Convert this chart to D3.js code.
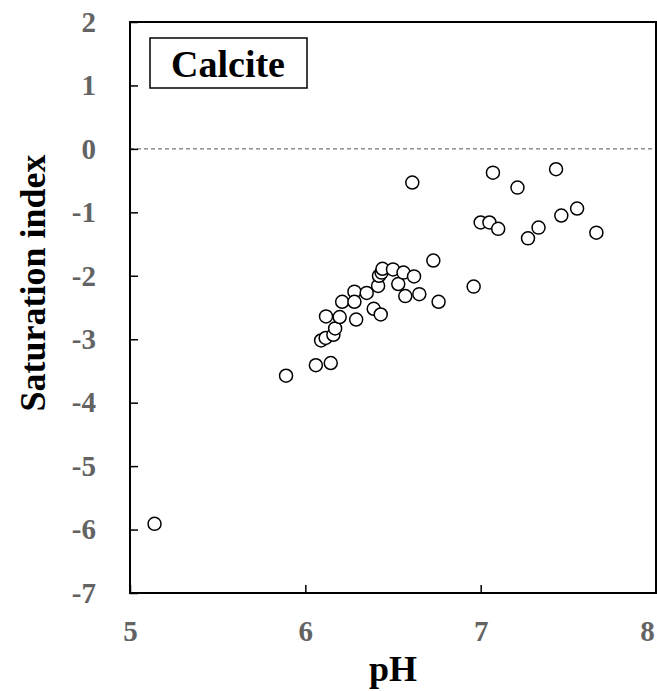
<!DOCTYPE html>
<html lang="en">
<head>
<meta charset="UTF-8">
<title>Calcite saturation index</title>
<style>
  body { margin: 0; background: #fff; }
  text { font-family: "Liberation Serif", "Times New Roman", serif; font-weight: bold; }
</style>
</head>
<body>
<div id="chart"></div>
<script src="https://d3js.org/d3.v7.min.js"></script>
<script>
// pH and saturation index of each sample
const ph = [5.14, 5.89, 6.06, 6.145, 6.09, 6.116, 6.16, 6.17, 6.118, 6.196, 6.21, 6.28, 6.28,
            6.29, 6.35, 6.39, 6.43, 6.415, 6.42, 6.435, 6.44, 6.50, 6.53, 6.56, 6.57, 6.62, 6.65,
            6.73, 6.76, 6.96, 6.61, 7.07, 7.43, 7.21, 7.00, 7.05, 7.10, 7.33, 7.27, 7.46, 7.55, 7.66];
const si = [-5.91, -3.575, -3.41, -3.375, -3.02, -2.98, -2.93, -2.83, -2.64, -2.65, -2.41, -2.25, -2.41,
            -2.69, -2.27, -2.52, -2.61, -2.16, -2.00, -1.95, -1.89, -1.90, -2.13, -1.95, -2.32, -2.01, -2.29,
            -1.76, -2.41, -2.17, -0.53, -0.375, -0.32, -0.61, -1.16, -1.16, -1.26, -1.24, -1.41, -1.05, -0.94, -1.32];
const xTicks = [5, 6, 7, 8];
const yTicks = [2, 1, 0, -1, -2, -3, -4, -5, -6, -7];

const margin = { top: 22, right: 1, bottom: 98, left: 130 },
      width = 657 - margin.left - margin.right,
      height = 691 - margin.top - margin.bottom;

const svg = d3.select("#chart")
    .append("svg")
    .attr("width", 657)
    .attr("height", 691)
    .append("g")
    .attr("transform", "translate(" + margin.left + "," + margin.top + ")");

const x = d3.scaleLinear().domain([5, 8]).range([0, width]);
const y = d3.scaleLinear().domain([-7, 2]).range([height, 0]);

// zero line
svg.append("line")
    .attr("x1", 0).attr("x2", width)
    .attr("y1", y(0)).attr("y2", y(0))
    .style("stroke", "#555")
    .style("stroke-width", 1)
    .style("stroke-dasharray", "4,3");

// axes with inward ticks
const xAxis = svg.append("g")
    .attr("transform", "translate(0," + height + ")")
    .call(d3.axisBottom(x).tickValues(xTicks).tickSize(-8).tickPadding(27).tickFormat(d3.format("d")));
const yAxis = svg.append("g")
    .call(d3.axisLeft(y).tickValues(yTicks).tickSize(-8).tickPadding(34).tickFormat(d => d < 0 ? "-" + Math.abs(d) : d));

[xAxis, yAxis].forEach(a => {
    a.select(".domain").remove();
    a.selectAll(".tick line").style("stroke", "#000").style("stroke-width", 1.5);
    a.selectAll(".tick text")
        .style("font-family", "'Liberation Serif', serif")
        .style("font-weight", "bold")
        .style("font-size", "29px")
        .style("fill", "#636363");
});
// keep the last x label inside the page
xAxis.selectAll(".tick text").filter(d => d === 8).attr("dx", -9);

// frame
svg.append("rect")
    .attr("x", 0).attr("y", 0)
    .attr("width", width).attr("height", height)
    .style("fill", "none")
    .style("stroke", "#000")
    .style("stroke-width", 2);

// points
svg.selectAll("circle")
    .data(ph.map((p, i) => ({ ph: p, si: si[i] })))
    .enter().append("circle")
    .attr("cx", d => x(d.ph))
    .attr("cy", d => y(d.si))
    .attr("r", 6.5)
    .style("fill", "#fff")
    .style("stroke", "#000")
    .style("stroke-width", 1.5);

// label box
svg.append("rect")
    .attr("x", 20).attr("y", 16)
    .attr("width", 157).attr("height", 50)
    .style("fill", "#fff")
    .style("stroke", "#000")
    .style("stroke-width", 1.5);
svg.append("text")
    .attr("x", 98).attr("y", 55)
    .attr("text-anchor", "middle")
    .style("font-size", "38px")
    .text("Calcite");

// axis titles
svg.append("text")
    .attr("x", width / 2)
    .attr("y", height + 88)
    .attr("text-anchor", "middle")
    .style("font-size", "36px")
    .text("pH");

svg.append("text")
    .attr("transform", "translate(" + (45 - margin.left) + "," + (283 - margin.top) + ") rotate(-90)")
    .attr("text-anchor", "middle")
    .style("font-size", "36px")
    .text("Saturation index");
</script>
</body>
</html>
